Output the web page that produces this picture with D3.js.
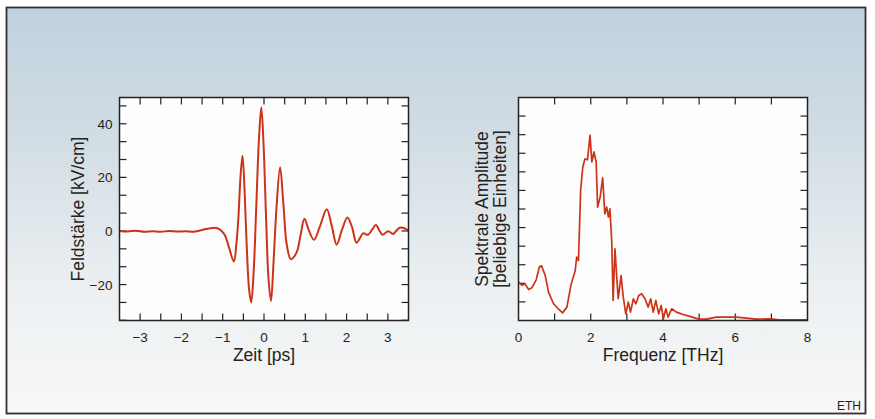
<!DOCTYPE html>
<html>
<head>
<meta charset="utf-8">
<script src="https://cdn.jsdelivr.net/npm/d3@7"></script>
<style>
  body { margin: 0; background: #fff; }
  svg { display: block; font-family: "Liberation Sans", Arial, sans-serif; }
</style>
</head>
<body>
<div id="chart"></div>
<script>
// Time trace: field strength vs. time
const zeit = [-3.5, -3.3, -3.1, -2.9, -2.7, -2.5, -2.3, -2.1, -1.9, -1.7, -1.55, -1.4, -1.25, -1.15, -1.05, -0.95, -0.85, -0.73, -0.67, -0.62, -0.57, -0.52, -0.47, -0.42, -0.36, -0.31, -0.25, -0.19, -0.12, -0.065, -0.01, 0.05, 0.11, 0.17, 0.23, 0.30, 0.39, 0.47, 0.55, 0.65, 0.79, 0.88, 0.98, 1.08, 1.21, 1.35, 1.52, 1.64, 1.76, 1.89, 2.02, 2.13, 2.24, 2.33, 2.40, 2.52, 2.62, 2.71, 2.80, 2.87, 2.95, 3.01, 3.07, 3.13, 3.20, 3.29, 3.40, 3.50];
const feld = [0.0, -0.2, 0.1, -0.3, -0.1, -0.3, 0.0, -0.2, -0.1, -0.3, 0.2, 0.7, 1.1, 1.1, 0.3, -1.5, -6.0, -11.4, -5, 5, 20, 28.1, 15, -5, -22, -26.7, -15, 8, 35, 46.2, 32, 5, -18, -26.1, -12, 8, 23.8, 10, -5, -10.5, -8, -2, 4.6, 0.5, -3.3, 1.5, 8.1, 2, -5.1, 0.5, 5.0, 1.5, -4.4, -2.5, -0.9, -1.4, 0.5, 2.2, 0, -1.4, -0.6, -0.1, -0.6, -1.1, 0, 1.2, 1.0, 0.1];

// Spectrum: amplitude (arbitrary units) vs. frequency
const frequenz = [0, 0.09, 0.18, 0.28, 0.37, 0.49, 0.58, 0.64, 0.74, 0.83, 0.97, 1.10, 1.22, 1.34, 1.45, 1.57, 1.61, 1.66, 1.72, 1.78, 1.84, 1.91, 1.98, 2.03, 2.09, 2.15, 2.19, 2.26, 2.33, 2.39, 2.44, 2.49, 2.53, 2.58, 2.62, 2.67, 2.72, 2.76, 2.84, 2.90, 2.97, 3.04, 3.10, 3.18, 3.25, 3.33, 3.41, 3.50, 3.59, 3.66, 3.73, 3.80, 3.88, 3.95, 4.01, 4.08, 4.14, 4.24, 4.37, 4.56, 4.74, 4.97, 5.2, 5.48, 5.75, 6.03, 6.31, 6.58, 6.95, 7.23, 7.6, 8.0];
const amplitude = [2.06, 1.9, 1.97, 1.67, 1.76, 2.19, 2.9, 2.94, 2.42, 1.53, 0.9, 0.63, 0.41, 0.72, 1.89, 2.69, 3.41, 3.23, 7.0, 8.26, 8.7, 8.65, 9.96, 8.53, 9.07, 8.53, 6.1, 6.64, 7.68, 5.74, 6.1, 5.57, 6.01, 4.31, 1.08, 3.86, 2.33, 1.17, 2.42, 1.26, 0.36, 0.99, 0.45, 1.17, 0.9, 1.35, 1.44, 1.17, 0.72, 1.17, 0.45, 1.08, 0.36, 0.81, 0.09, 0.63, 0.18, 0.63, 0.45, 0.32, 0.22, 0.09, 0.07, 0.18, 0.18, 0.18, 0.13, 0.07, 0.09, 0.04, 0.04, 0.04];

const zeitTicks = [-3, -2, -1, 0, 1, 2, 3];
const feldTicks = [-20, 0, 20, 40];
const freqTicks = [0, 2, 4, 6, 8];

const width = 875;
const height = 419;
const red = "#cc3317";

const svg = d3.select("#chart").append("svg")
    .attr("width", width)
    .attr("height", height);

// Background panel with a soft blue to white gradient
const defs = svg.append("defs");
const grad = defs.append("linearGradient")
    .attr("id", "bg").attr("x1", 0).attr("y1", 0).attr("x2", 0).attr("y2", 1);
grad.append("stop").attr("offset", "0%").attr("stop-color", "#c0d1dd");
grad.append("stop").attr("offset", "35%").attr("stop-color", "#d3dee5");
grad.append("stop").attr("offset", "70%").attr("stop-color", "#ecf0f2");
grad.append("stop").attr("offset", "100%").attr("stop-color", "#f7f7f7");

svg.append("rect")
    .attr("x", 6.5).attr("y", 7.5)
    .attr("width", 859).attr("height", 406)
    .attr("fill", "url(#bg)")
    .attr("stroke", "#3a2e2c")
    .attr("stroke-width", 1.8);

svg.append("text")
    .attr("x", 861).attr("y", 410)
    .attr("text-anchor", "end")
    .attr("font-size", 12)
    .attr("fill", "#222")
    .text("ETH");

function panel(opts) {
    const g = svg.append("g");
    const x = d3.scaleLinear().domain(opts.xDomain).range([opts.left, opts.right]);
    const y = d3.scaleLinear().domain(opts.yDomain).range([opts.bottom, opts.top]);

    g.append("rect")
        .attr("x", opts.left).attr("y", opts.top)
        .attr("width", opts.right - opts.left)
        .attr("height", opts.bottom - opts.top)
        .attr("fill", "#fdfdfd");

    // inward ticks on all four sides
    const tick = 7;
    const xt = d3.range(opts.xMinor[0], opts.xMinor[1] + 1e-9, opts.xMinor[2])
        .filter(v => v > opts.xDomain[0] + 1e-6 && v < opts.xDomain[1] - 1e-6);
    const yt = d3.range(opts.yMinor[0], opts.yMinor[1] + 1e-9, opts.yMinor[2])
        .filter(v => v > opts.yDomain[0] + 1e-6 && v < opts.yDomain[1] - 1e-6);
    const tg = g.append("g").attr("stroke", "#222").attr("stroke-width", 1.2);
    xt.forEach(v => {
        tg.append("line").attr("x1", x(v)).attr("x2", x(v)).attr("y1", opts.bottom).attr("y2", opts.bottom - tick);
        tg.append("line").attr("x1", x(v)).attr("x2", x(v)).attr("y1", opts.top).attr("y2", opts.top + tick);
    });
    yt.forEach(v => {
        tg.append("line").attr("y1", y(v)).attr("y2", y(v)).attr("x1", opts.left).attr("x2", opts.left + tick);
        tg.append("line").attr("y1", y(v)).attr("y2", y(v)).attr("x1", opts.right).attr("x2", opts.right - tick);
    });

    // tick labels
    const fmt = d => d < 0 ? "\u2212" + Math.abs(d) : String(d);
    g.selectAll(".xl").data(opts.xLabels).enter().append("text")
        .attr("x", d => x(d))
        .attr("y", opts.bottom + 21)
        .attr("text-anchor", "middle")
        .attr("font-size", 13.5)
        .attr("fill", "#222")
        .text(fmt);
    g.selectAll(".yl").data(opts.yLabels).enter().append("text")
        .attr("x", opts.left - 7)
        .attr("y", d => y(d) + 5)
        .attr("text-anchor", "end")
        .attr("font-size", 13.5)
        .attr("fill", "#222")
        .text(fmt);

    // the curve
    const clipId = "clip" + Math.round(opts.left);
    defs.append("clipPath").attr("id", clipId).append("rect")
        .attr("x", opts.left).attr("y", opts.top)
        .attr("width", opts.right - opts.left).attr("height", opts.bottom - opts.top);
    const line = d3.line()
        .x(d => x(d[0]))
        .y(d => y(d[1]))
        .curve(opts.curve);
    g.append("path")
        .datum(d3.zip(opts.xs, opts.ys))
        .attr("clip-path", `url(#${clipId})`)
        .attr("fill", "none")
        .attr("stroke", red)
        .attr("stroke-width", opts.lw)
        .attr("stroke-linejoin", "round")
        .attr("d", line);

    // frame
    g.append("rect")
        .attr("x", opts.left).attr("y", opts.top)
        .attr("width", opts.right - opts.left)
        .attr("height", opts.bottom - opts.top)
        .attr("fill", "none")
        .attr("stroke", "#222")
        .attr("stroke-width", 1.5);

    // axis titles
    g.append("text")
        .attr("x", (opts.left + opts.right) / 2)
        .attr("y", opts.bottom + 40)
        .attr("text-anchor", "middle")
        .attr("font-size", 17.5)
        .attr("fill", "#222")
        .text(opts.xTitle);
    opts.yTitle.forEach((t, i) => {
        g.append("text")
            .attr("transform", `translate(${opts.yTitleX + i * 18},${(opts.top + opts.bottom) / 2}) rotate(-90)`)
            .attr("text-anchor", "middle")
            .attr("font-size", 17.5)
            .attr("fill", "#222")
            .text(t);
    });
}

panel({
    left: 119.5, right: 408.5, top: 97.5, bottom: 320.5,
    xDomain: [-3.5, 3.5], yDomain: [-33.4, 49.8],
    xMinor: [-3.5, 3.5, 0.5], yMinor: [-40, 60, 20 / 3],
    xLabels: zeitTicks, yLabels: feldTicks,
    xs: zeit, ys: feld,
    curve: d3.curveCatmullRom.alpha(0.5), lw: 2,
    xTitle: "Zeit [ps]", yTitle: ["Feldstärke [kV/cm]"], yTitleX: 84
});

panel({
    left: 518.5, right: 807.5, top: 97.5, bottom: 320.5,
    xDomain: [0, 8], yDomain: [0, 12],
    xMinor: [0, 8, 1], yMinor: [0, 12, 1],
    xLabels: freqTicks, yLabels: [],
    xs: frequenz, ys: amplitude,
    curve: d3.curveLinear, lw: 1.7,
    xTitle: "Frequenz [THz]", yTitle: ["Spektrale Amplitude", "[beliebige Einheiten]"], yTitleX: 488
});
</script>
</body>
</html>
